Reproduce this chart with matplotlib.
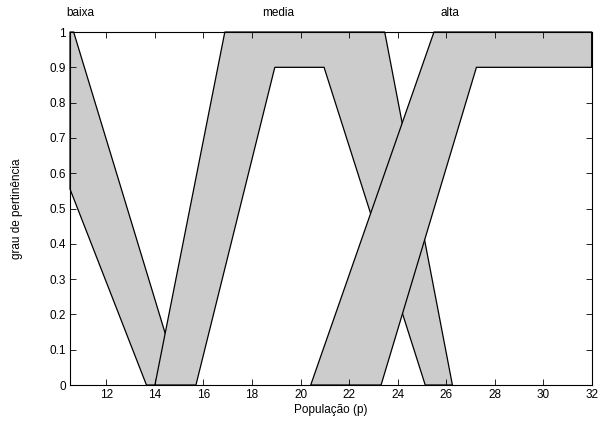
import matplotlib
matplotlib.use("Agg")
import matplotlib.pyplot as plt
import numpy as np

plt.rcParams['font.family'] = ['Liberation Sans', 'DejaVu Sans']

# Type-2 fuzzy sets: upper (umf) and lower (lmf) membership functions
baixa_umf_x = [10.5, 10.65, 15.07]
baixa_umf_y = [1.0, 1.0, 0.0]
baixa_lmf_x = [10.5, 13.65]
baixa_lmf_y = [0.555, 0.0]

media_umf_x = [14.0, 16.88, 23.47, 26.26]
media_umf_y = [0.0, 1.0, 1.0, 0.0]
media_lmf_x = [15.69, 18.94, 20.97, 25.14]
media_lmf_y = [0.0, 0.9, 0.9, 0.0]

alta_umf_x = [20.42, 25.5, 32.0]
alta_umf_y = [0.0, 1.0, 1.0]
alta_lmf_x = [23.32, 27.25, 32.0]
alta_lmf_y = [0.0, 0.9, 0.9]

labels = ["baixa", "media", "alta"]
label_x = [10.35, 18.4, 25.75]


def band(ax, ux, uy, lx, ly):
    # polygon between upper and lower membership functions
    px = list(ux) + list(lx[::-1])
    py = list(uy) + list(ly[::-1])
    ax.fill(px, py, facecolor="#cccccc", edgecolor="black", linewidth=0.9,
            clip_on=False)


fig = plt.figure(figsize=(6.01, 4.23), dpi=100)
ax = fig.add_axes([0.1165, 0.0898, 0.868, 0.8345])

band(ax, baixa_umf_x, baixa_umf_y, baixa_lmf_x, baixa_lmf_y)
band(ax, media_umf_x, media_umf_y, media_lmf_x, media_lmf_y)
band(ax, alta_umf_x, alta_umf_y, alta_lmf_x, alta_lmf_y)

ax.set_xlim(10.5, 32)
ax.set_ylim(0, 1)
ax.set_xticks(np.arange(12, 33, 2))
ax.set_yticks(np.arange(0, 1.01, 0.1))
ax.set_yticklabels(["0", "0.1", "0.2", "0.3", "0.4", "0.5", "0.6", "0.7", "0.8", "0.9", "1"])
ax.tick_params(direction="in", top=True, right=True, length=4, width=0.6,
               labelsize=8.5, pad=3)
for s in ax.spines.values():
    s.set_linewidth(0.8)

for t, xx in zip(labels, label_x):
    ax.text(xx, 1.055, t, ha="left", va="center", fontsize=8.5, clip_on=False)

ax.set_xlabel("População (p)", fontsize=8.5, labelpad=2)
ax.set_ylabel("grau de pertinência", fontsize=8.5, labelpad=19)

fig.savefig("out.png", dpi=100)
